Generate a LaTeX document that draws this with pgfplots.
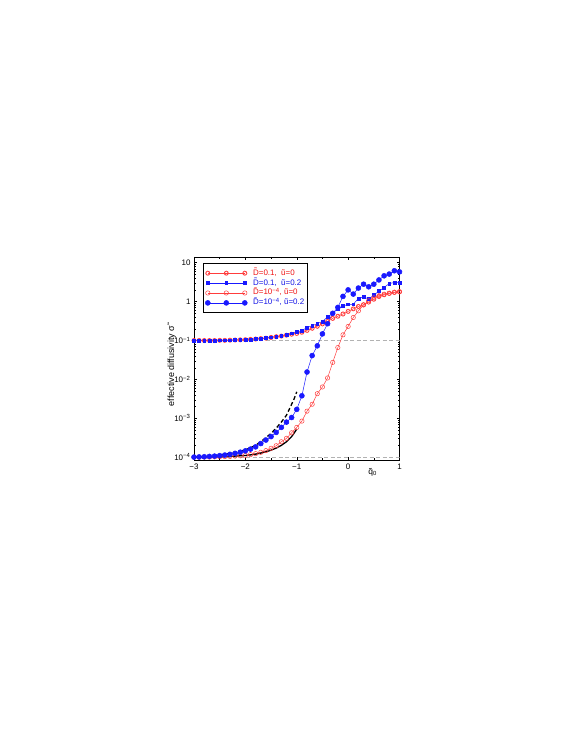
\documentclass[border=0pt]{standalone}
\usepackage{fontspec}
\setmainfont{Liberation Sans}
\usepackage{pgfplots}
\pgfplotsset{compat=1.18}
\definecolor{redc}{RGB}{255,60,60}
\definecolor{bluec}{RGB}{25,25,255}
\definecolor{redt}{RGB}{240,20,20}
\definecolor{bluet}{RGB}{20,20,230}
\pgfdeclareplotmark{odiam}{%
 \pgfpathcircle{\pgfpointorigin}{\pgfplotmarksize}%
 \pgfpathmoveto{\pgfqpoint{0pt}{\pgfplotmarksize}}%
 \pgfpathlineto{\pgfqpoint{\pgfplotmarksize}{0pt}}%
 \pgfpathlineto{\pgfqpoint{0pt}{-\pgfplotmarksize}}%
 \pgfpathlineto{\pgfqpoint{-\pgfplotmarksize}{0pt}}%
 \pgfpathclose
 \pgfusepathqstroke}
\begin{document}
\begin{tikzpicture}
\path[use as bounding box] (0bp,0bp) rectangle (581bp,752bp);
\begin{axis}[
  at={(194bp,292bp)}, anchor=south west,
  scale only axis, width=205.5bp, height=203bp,
  xmin=-3, xmax=1, ymode=log, ymin=8.5e-5, ymax=14,
  xtick={-3,-2,-1,0,1}, xticklabels={−3,−2,−1,0,1},
  minor xtick={-2.5,-1.5,-0.5,0.5},
  ytick={1e-4,1e-3,1e-2,1e-1,1,10},
  yticklabels={10\textsuperscript{−4},10\textsuperscript{−3},10\textsuperscript{−2},10\textsuperscript{−1},1,10},
  tick align=inside,
  major tick length=3bp, minor tick length=1.7bp,
  every tick/.style={black, line width=0.4bp},
  axis line style={line width=0.6bp},
  tick label style={font=\fontsize{8}{9}\selectfont},
  xlabel={\~{q}\textsubscript{0}},
  xlabel style={at={(axis description cs:0.869,0)}, anchor=north, yshift=-5bp, font=\fontsize{8.5}{9}\selectfont},
  ylabel={effective diffusivity \~{σ}},
  ylabel style={at={(axis description cs:-0.1085,0.463)}, anchor=center, font=\fontsize{9}{10}\selectfont},
  legend style={at={(axis description cs:0.044,0.969)}, anchor=north west,
    draw=black, line width=0.5bp, inner xsep=2bp, inner ysep=5.0bp,
    font=\fontsize{8}{9}\selectfont, row sep=0.6bp,
    nodes={inner sep=0.8bp, text height=5.8bp, text depth=1.9bp},
    /tikz/every odd column/.append style={column sep=5bp}},
  legend cell align=left,
  legend image code/.code={\draw plot coordinates {(0bp,0bp) (18.5bp,0bp) (37bp,0bp)};},
]
\addplot[gray!60, line width=0.8bp, dash pattern=on 4bp off 2.5bp, forget plot] coordinates {(-3,0.1) (1,0.1)};
\addplot[gray!60, line width=0.8bp, dash pattern=on 4bp off 2.5bp, forget plot] coordinates {(-3,1e-4) (1,1e-4)};
% D=0.1, u=0
\addplot[redc, line width=0.5bp, mark=odiam, mark size=2.2bp, mark options={line width=0.5bp}] table {
-3.0 0.100
-2.9 0.100
-2.8 0.100
-2.7 0.100
-2.6 0.100
-2.5 0.101
-2.4 0.101
-2.3 0.102
-2.2 0.103
-2.1 0.104
-2.0 0.105
-1.9 0.107
-1.8 0.109
-1.7 0.112
-1.6 0.115
-1.5 0.120
-1.4 0.125
-1.3 0.130
-1.2 0.137
-1.1 0.145
-1.0 0.152
-0.9 0.163
-0.8 0.182
-0.7 0.206
-0.6 0.232
-0.5 0.267
-0.4 0.31
-0.3 0.37
-0.2 0.42
-0.1 0.48
0.0 0.56
0.1 0.65
0.2 0.75
0.3 0.83
0.4 0.97
0.5 1.15
0.6 1.35
0.7 1.50
0.8 1.62
0.9 1.72
1.0 1.78
};
\addlegendentry{\textcolor{redt}{\~{D}=0.1,\ \ ũ=0}}
% D=0.1, u=0.2
\addplot[bluec, line width=0.5bp, mark=square*, mark size=1.4bp, mark options={fill=bluec, draw=bluec}] table {
-3.0 0.100
-2.9 0.100
-2.8 0.100
-2.7 0.100
-2.6 0.100
-2.5 0.101
-2.4 0.101
-2.3 0.102
-2.2 0.103
-2.1 0.104
-2.0 0.105
-1.9 0.107
-1.8 0.109
-1.7 0.112
-1.6 0.116
-1.5 0.121
-1.4 0.127
-1.3 0.134
-1.2 0.142
-1.1 0.153
-1.0 0.165
-0.9 0.180
-0.8 0.215
-0.7 0.24
-0.6 0.27
-0.5 0.31
-0.4 0.40
-0.3 0.50
-0.2 0.65
-0.1 0.77
0.0 0.85
0.1 0.85
0.2 1.21
0.3 1.33
0.4 1.16
0.5 1.47
0.6 1.86
0.7 2.3
0.8 2.9
0.9 3.1
1.0 3.1
};
\addlegendentry{\textcolor{bluet}{\~{D}=0.1,\ \ ũ=0.2}}
% D=1e-4, u=0
\addplot[redc, line width=0.5bp, mark=o, mark size=2.2bp, mark options={line width=0.5bp}] table {
-3.0 1.00e-4
-2.9 1.00e-4
-2.8 1.01e-4
-2.7 1.01e-4
-2.6 1.02e-4
-2.5 1.03e-4
-2.4 1.04e-4
-2.3 1.05e-4
-2.2 1.07e-4
-2.1 1.09e-4
-2.0 1.12e-4
-1.9 1.17e-4
-1.8 1.24e-4
-1.7 1.34e-4
-1.6 1.48e-4
-1.5 1.70e-4
-1.4 1.98e-4
-1.3 2.50e-4
-1.2 3.06e-4
-1.1 4.25e-4
-1.0 5.85e-4
-0.9 8.5e-4
-0.8 1.53e-3
-0.7 2.3e-3
-0.6 4.3e-3
-0.5 6.4e-3
-0.4 1.09e-2
-0.3 2.74e-2
-0.2 6.6e-2
-0.1 0.14
0.0 0.23
0.1 0.39
0.2 0.58
0.3 0.82
0.4 1.05
0.5 1.25
0.6 1.42
0.7 1.55
0.8 1.65
0.9 1.75
1.0 1.80
};
\addlegendentry{\textcolor{redt}{\~{D}=10\textsuperscript{−4}, ũ=0}}
% D=1e-4, u=0.2
\addplot[bluec, line width=0.5bp, mark=*, mark size=2.5bp, mark options={fill=bluec, draw=bluec}] table {
-3.0 1.01e-4
-2.9 1.02e-4
-2.8 1.03e-4
-2.7 1.05e-4
-2.6 1.07e-4
-2.5 1.10e-4
-2.4 1.14e-4
-2.3 1.19e-4
-2.2 1.26e-4
-2.1 1.35e-4
-2.0 1.46e-4
-1.9 1.62e-4
-1.8 1.85e-4
-1.7 2.25e-4
-1.6 2.77e-4
-1.5 3.40e-4
-1.4 4.35e-4
-1.3 5.85e-4
-1.2 8.0e-4
-1.1 1.05e-3
-1.0 1.7e-3
-0.9 3.8e-3
-0.8 1.55e-2
-0.7 4.1e-2
-0.6 7.3e-2
-0.5 0.148
-0.4 0.27
-0.3 0.50
-0.2 0.71
-0.1 1.36
0.0 2.0
0.1 1.56
0.2 2.23
0.3 2.8
0.4 2.4
0.5 2.8
0.6 3.6
0.7 4.6
0.8 5.1
0.9 6.2
1.0 5.8
};
\addlegendentry{\textcolor{bluet}{\~{D}=10\textsuperscript{−4}, ũ=0.2}}
% asymptotic curves
\addplot[black, line width=1.3bp, forget plot] table {
-3.0 1.0e-4
-2.8 1.01e-4
-2.6 1.02e-4
-2.4 1.04e-4
-2.2 1.07e-4
-2.0 1.11e-4
-1.9 1.15e-4
-1.8 1.20e-4
-1.7 1.28e-4
-1.6 1.38e-4
-1.5 1.52e-4
-1.4 1.72e-4
-1.3 2.02e-4
-1.2 2.50e-4
-1.1 3.40e-4
-1.05 4.20e-4
-1.0 5.30e-4
};
\addplot[black, line width=1.3bp, dash pattern=on 4bp off 2.5bp, forget plot] table {
-3.0 1.01e-4
-2.8 1.04e-4
-2.6 1.10e-4
-2.4 1.19e-4
-2.2 1.33e-4
-2.0 1.55e-4
-1.9 1.75e-4
-1.8 2.05e-4
-1.7 2.50e-4
-1.6 3.20e-4
-1.5 4.10e-4
-1.4 5.60e-4
-1.3 8.00e-4
-1.2 1.20e-3
-1.1 2.30e-3
-1.05 3.20e-3
-1.0 4.80e-3
};
\end{axis}
\end{tikzpicture}
\end{document}
